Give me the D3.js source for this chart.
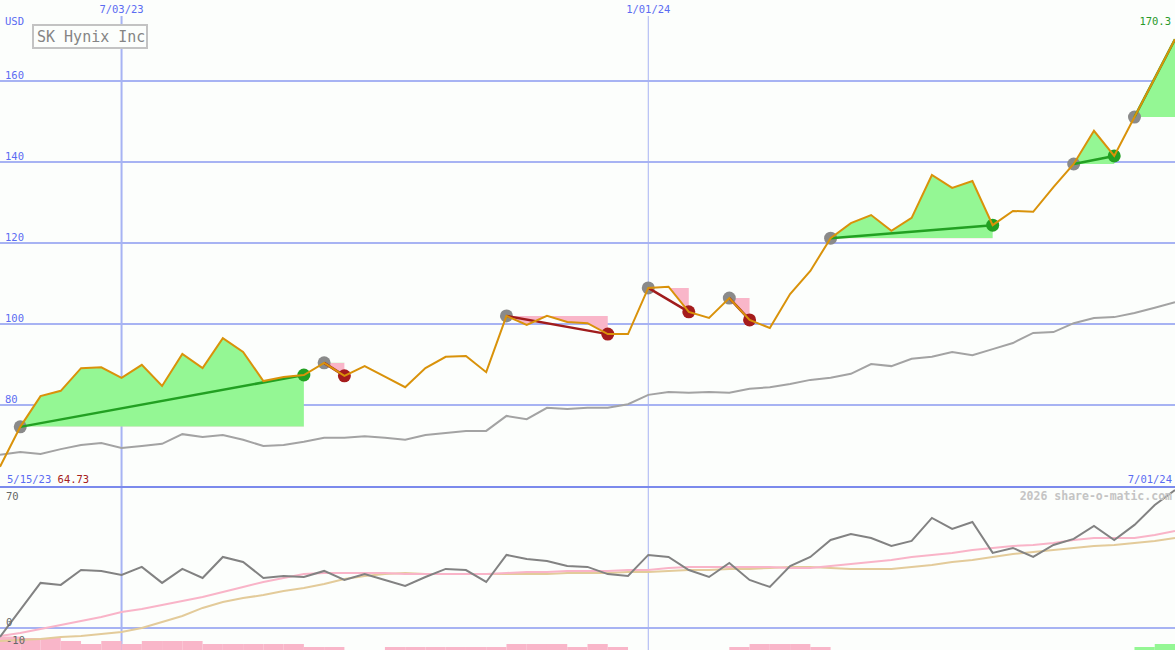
<!DOCTYPE html>
<html><head><meta charset="utf-8">
<script src="https://cdn.jsdelivr.net/npm/d3@7"></script>
<style>
html,body{margin:0;padding:0;background:#fcfefc;overflow:hidden;}
svg{display:block;}
text{font-family:"DejaVu Sans Mono","Liberation Mono",monospace;}
</style></head><body>
<svg id="chart" width="1175" height="650"></svg>
<script>
// ---------- data ----------
const dates = ["5/15/23","5/29/23","6/05/23","6/12/23","6/19/23","6/26/23","7/03/23","7/10/23","7/17/23","7/24/23",
"7/31/23","8/07/23","8/14/23","8/21/23","8/28/23","9/04/23","9/11/23","9/18/23","9/25/23","10/02/23",
"10/09/23","10/16/23","10/23/23","10/30/23","11/06/23","11/13/23","11/20/23","11/27/23","12/04/23","12/11/23",
"12/18/23","12/25/23","1/01/24","1/08/24","1/15/24","1/22/24","1/29/24","2/05/24","2/12/24","2/19/24",
"2/26/24","3/04/24","3/11/24","3/18/24","3/25/24","4/01/24","4/08/24","4/15/24","4/22/24","4/29/24",
"5/06/24","5/13/24","5/20/24","5/27/24","6/03/24","6/10/24","6/17/24","6/24/24","7/01/24"];

const price = [64.73,74.6,82.2,83.5,89.1,89.3,86.7,89.9,84.7,92.6,
89.1,96.5,93.1,85.9,86.9,87.4,90.4,87.2,89.6,87.0,
84.4,89.1,91.9,92.1,88.1,102.0,99.8,102.0,100.5,100.2,
97.5,97.5,108.9,109.2,103.0,101.5,106.4,101.0,99.0,107.4,
113.1,121.2,124.9,126.9,123.0,126.2,136.8,133.6,135.3,124.4,
127.9,127.7,133.8,139.5,147.7,141.5,151.1,160.7,170.3];

const avgPrice = [67.7,68.4,67.9,69.1,70.1,70.6,69.4,69.9,70.4,72.8,
72.1,72.6,71.4,69.9,70.1,70.9,71.9,71.9,72.3,71.9,
71.4,72.6,73.1,73.6,73.6,77.3,76.5,79.3,79.0,79.3,
79.3,80.2,82.5,83.2,83.0,83.2,83.0,84.0,84.4,85.2,
86.2,86.7,87.7,90.1,89.6,91.4,91.9,93.1,92.3,93.8,
95.3,97.8,98.0,100.2,101.5,101.7,102.7,104.0,105.4];

const osc = [-4.9,9.8,24.5,23.4,31.5,31.0,28.8,33.2,24.5,32.1,
27.2,38.6,35.9,27.2,28.3,27.7,31.0,26.1,29.3,26.1,
22.8,27.7,32.1,31.5,25.0,39.7,37.5,36.4,33.7,33.2,
29.3,28.3,39.7,38.6,31.5,27.7,35.3,26.1,22.3,33.7,
38.6,47.8,51.1,48.9,44.6,47.3,59.8,53.8,57.6,40.8,
43.5,38.6,45.1,48.4,55.4,47.8,56.0,66.8,75.0];

const oscFast = [-4.3,-2.7,-0.5,1.6,3.8,6.0,8.7,10.3,12.5,14.7,
16.8,19.6,22.3,25.0,27.2,29.3,29.9,29.9,29.9,29.9,
29.3,29.3,29.3,29.3,29.3,29.9,30.4,30.4,31.0,31.0,
31.0,31.5,31.5,32.6,33.2,33.2,33.2,33.2,33.2,32.6,
32.6,33.7,34.8,35.9,37.0,38.6,39.7,40.8,42.4,43.5,
44.6,45.1,46.2,47.8,48.9,48.9,48.9,50.5,52.7];

const oscSlow = [-7.1,-6.5,-6.0,-4.9,-4.3,-3.3,-2.2,0.0,3.3,6.5,
10.9,14.1,16.3,17.9,20.1,21.7,23.9,26.6,28.3,29.3,
29.9,29.3,29.3,29.3,29.3,29.3,29.3,29.3,29.9,29.9,
29.9,30.4,30.4,31.0,31.5,31.5,32.1,32.1,32.6,33.2,
33.2,32.6,32.1,32.1,32.1,33.2,34.2,35.9,37.0,38.6,
40.2,41.3,42.4,43.5,44.6,45.1,46.2,47.3,48.9];

const signalBars = [-4.5,-4,-4,-3,-2,-3,-2,-3,-3,-3,
-2,-2,-2,-2,-2,-1,-1,0,0,-1,
-1,-1,-1,-1,-1,-2,-2,-2,-1,-2,
-1,0,0,0,0,0,-1,-2,-2,-2,
-1,0,0,0,0,0,0,0,0,0,
0,0,0,0,0,0,1,2,0];

const priceTicks = [80,100,120,140,160];
const oscTickLabels = [70,0,-10];
const oscGrid = [0];
const markerDates = ["7/03/23","1/01/24"];

const segStart = [1,16,25,32,36,41,53,56];
const segEnd   = [15,17,30,34,37,49,55,58];
const segClosed = [true,true,true,true,true,true,true,false];

// ---------- layout ----------
const W = 1175, H = 650;
const mainTop = 0, mainBottom = 487;
const svg = d3.select("#chart");

const x = d3.scalePoint().domain(dates).range([0, W]);
const y = d3.scaleLinear().domain([59.75, 180]).range([mainBottom, mainTop]);
const yo = d3.scaleLinear().domain([-11.95, 76.6]).range([650, 487]);
const yb = d3.scaleLinear().domain([0, 5]).range([650, 635]);

const BLUE_TXT = "#5b6cf2", GRID = "#a7b3f3";
const idx = d3.range(dates.length);
const X = i => x(dates[i]);

// background
svg.append("rect").attr("width", W).attr("height", H).attr("fill", "#fcfefc");

// horizontal grid (main)
svg.append("g").selectAll("line").data(priceTicks).join("line")
  .attr("x1", 0).attr("x2", W)
  .attr("y1", d => y(d)).attr("y2", d => y(d))
  .attr("stroke", GRID).attr("stroke-width", 2);

// bottom grid
svg.append("g").selectAll("line").data(oscGrid).join("line")
  .attr("x1", 0).attr("x2", W)
  .attr("y1", d => yo(d)).attr("y2", d => yo(d))
  .attr("stroke", GRID).attr("stroke-width", 2);

// vertical date lines
svg.append("g").selectAll("line").data(markerDates).join("line")
  .attr("x1", d => x(d)).attr("x2", d => x(d))
  .attr("y1", 16).attr("y2", H)
  .attr("stroke", GRID).attr("stroke-width", (d, i) => i === 0 ? 2 : 1);

// divider
svg.append("line").attr("x1", 0).attr("x2", W).attr("y1", mainBottom).attr("y2", mainBottom)
  .attr("stroke", "#7b8aec").attr("stroke-width", 2);

// ---------- trend segment fills ----------
const defs = svg.append("defs");
const fills = svg.append("g");
segStart.forEach((s, k) => {
  const e = segEnd[k];
  const base = price[s];
  const pts = d3.range(s, e + 1);
  const area = d3.area().x(i => X(i)).y0(y(base)).y1(i => y(price[i]));
  const idU = "clipU" + k, idD = "clipD" + k;
  defs.append("clipPath").attr("id", idU).append("rect")
    .attr("x", 0).attr("y", 0).attr("width", W).attr("height", y(base));
  defs.append("clipPath").attr("id", idD).append("rect")
    .attr("x", 0).attr("y", y(base)).attr("width", W).attr("height", H);
  fills.append("path").datum(pts).attr("d", area).attr("fill", "#94f794")
    .attr("clip-path", `url(#${idU})`);
  fills.append("path").datum(pts).attr("d", area).attr("fill", "#f9b6c9")
    .attr("clip-path", `url(#${idD})`);
});

// average price line
svg.append("path").datum(idx)
  .attr("d", d3.line().x(i => X(i)).y(i => y(avgPrice[i])))
  .attr("fill", "none").attr("stroke", "#a3a3a3").attr("stroke-width", 2);

// ---------- lower panel ----------
svg.append("g").selectAll("rect").data(idx.filter(i => signalBars[i] !== 0)).join("rect")
  .attr("x", i => X(i))
  .attr("width", i => (i < dates.length - 1 ? X(i + 1) : W) - X(i))
  .attr("y", i => yb(Math.abs(signalBars[i])))
  .attr("height", i => yb(0) - yb(Math.abs(signalBars[i])))
  .attr("fill", i => signalBars[i] > 0 ? "#94f794" : "#f9b6c9");

const lineO = arr => d3.line().x(i => X(i)).y(i => yo(arr[i]));
svg.append("path").datum(idx).attr("d", lineO(oscSlow))
  .attr("fill", "none").attr("stroke", "#e3cb9a").attr("stroke-width", 2);
svg.append("path").datum(idx).attr("d", lineO(oscFast))
  .attr("fill", "none").attr("stroke", "#f9b4c8").attr("stroke-width", 2);
svg.append("path").datum(idx).attr("d", lineO(osc))
  .attr("fill", "none").attr("stroke", "#828282").attr("stroke-width", 2);

// ---------- markers and trend lines ----------
const marks = svg.append("g");
segStart.forEach((s, k) => {
  const e = segEnd[k];
  const up = price[e] >= price[s];
  marks.append("circle").attr("cx", X(s)).attr("cy", y(price[s])).attr("r", 6.5).attr("fill", "#8a8a8a");
  if (segClosed[k]) {
    marks.append("circle").attr("cx", X(e)).attr("cy", y(price[e])).attr("r", 6.5)
      .attr("fill", up ? "#22a022" : "#a51c1c");
  }
  marks.append("line")
    .attr("x1", X(s)).attr("y1", y(price[s])).attr("x2", X(e)).attr("y2", y(price[e]))
    .attr("stroke", up ? "#22a022" : "#a01c1c").attr("stroke-width", 2.5);
});

// price line
svg.append("path").datum(idx)
  .attr("d", d3.line().x(i => X(i)).y(i => y(price[i])))
  .attr("fill", "none").attr("stroke", "#d9920a").attr("stroke-width", 2);

// ---------- text ----------
const txt = svg.append("g").attr("font-size", "10.5px");
txt.append("text").attr("x", 5).attr("y", 25).attr("fill", BLUE_TXT).text("USD");
txt.selectAll("text.pt").data(priceTicks).join("text").attr("class", "pt")
  .attr("x", 5).attr("y", d => y(d) - 2).attr("fill", BLUE_TXT).text(d => d);
txt.selectAll("text.dt").data(markerDates).join("text").attr("class", "dt")
  .attr("x", d => x(d)).attr("y", 13).attr("text-anchor", "middle").attr("fill", BLUE_TXT).text(d => d);

txt.append("text").attr("x", 1171).attr("y", 25).attr("text-anchor", "end")
  .attr("fill", "#2a9a2a").text(price[price.length - 1]);

const st = txt.append("text").attr("x", 7).attr("y", 483);
st.append("tspan").attr("fill", BLUE_TXT).text(dates[0] + " ");
st.append("tspan").attr("fill", "#a52020").text(price[0]);
txt.append("text").attr("x", 1172).attr("y", 483).attr("text-anchor", "end")
  .attr("fill", BLUE_TXT).text(dates[dates.length - 1]);

svg.append("text").attr("x", 1172).attr("y", 500).attr("text-anchor", "end")
  .attr("font-size", "11.5px").attr("font-weight", "bold").attr("fill", "#c4c4c4")
  .text("2026 share-o-matic.com");

txt.selectAll("text.ot").data(oscTickLabels).join("text").attr("class", "ot")
  .attr("x", 6).attr("y", (d, i) => i === 0 ? 500 : yo(d) - 2)
  .attr("fill", "#666").text(d => d);

// title box
const tb = svg.append("g");
tb.append("rect").attr("x", 33).attr("y", 25).attr("width", 114).attr("height", 23)
  .attr("fill", "#fcfefc").attr("stroke", "#c3c3c3").attr("stroke-width", 2);
tb.append("text").attr("x", 37).attr("y", 42).attr("font-size", "15px").attr("fill", "#858585")
  .text("SK Hynix Inc");
</script>
</body></html>
